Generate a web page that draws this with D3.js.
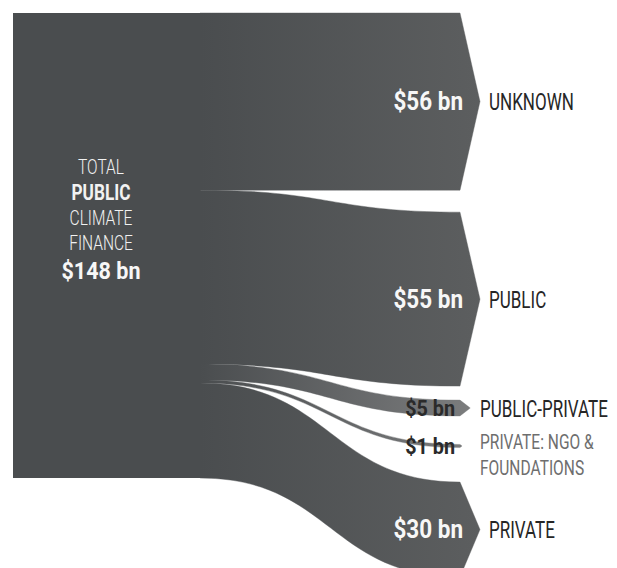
<!DOCTYPE html>
<html>
<head>
<meta charset="utf-8">
<script src="https://cdn.jsdelivr.net/npm/d3@7"></script>
<style>
  html, body { margin: 0; padding: 0; background: #fff; }
  svg { display: block; }
  text { font-family: Roboto, "Liberation Sans", sans-serif; }
</style>
</head>
<body>
<svg id="chart" width="617" height="568"></svg>
<script>
// Where the public money goes: destination of total public climate finance ($ bn)
const categoryLines = [
  ["UNKNOWN"],
  ["PUBLIC"],
  ["PUBLIC-PRIVATE"],
  ["PRIVATE: NGO &", "FOUNDATIONS"],
  ["PRIVATE"]
];
const flowValues = [56, 55, 5, 1, 30];
const totalValue = 148;
const sourceLines = ["TOTAL", "PUBLIC", "CLIMATE", "FINANCE"];

const svg = d3.select("#chart");

// layout
const nodeLeft = 13, nodeTop = 13, nodeBottom = 478;
const linkX0 = 200, linkX1 = 460;
const targetGaps = [0, 22, 14, 28.5, 34.5];

const total = d3.sum(flowValues);
const y = d3.scaleLinear().domain([0, total]).range([nodeTop, nodeBottom]);
const bandH = v => y(v) - y(0);

const cum = [0, ...d3.cumsum(flowValues)];
const sourceTops = flowValues.map((v, i) => y(cum[i]));
let run = nodeTop;
const targetTops = flowValues.map((v, i) => {
  run += targetGaps[i];
  const t = run;
  run += bandH(v);
  return t;
});

const flows = flowValues.map((v, i) => {
  const h = bandH(v);
  const arrow = Math.min(20, h * 0.65);
  return {
    value: v, lines: categoryLines[i], h,
    y0: sourceTops[i], y1: targetTops[i],
    arrow, tip: linkX1 + arrow, mid: targetTops[i] + h / 2,
    big: h > 50
  };
});

// gradients
const defs = svg.append("defs");
function fade(id, from, to) {
  const g = defs.append("linearGradient")
    .attr("id", id).attr("gradientUnits", "userSpaceOnUse")
    .attr("x1", linkX0).attr("x2", linkX1 + 20).attr("y1", 0).attr("y2", 0);
  g.append("stop").attr("offset", 0).attr("stop-color", from);
  g.append("stop").attr("offset", 1).attr("stop-color", to);
}
const baseColor = "#4a4d4f";
fade("fadeDark", baseColor, "#5c5e5f");
fade("fadeLight", baseColor, "#7d7e7f");

// source node
svg.append("rect")
  .attr("x", nodeLeft).attr("y", nodeTop)
  .attr("width", linkX0 - nodeLeft + 0.5)
  .attr("height", nodeBottom - nodeTop)
  .attr("fill", baseColor);

// ribbons with arrow heads
function ribbon(d) {
  const xm = (linkX0 + linkX1) / 2;
  const p = d3.path();
  p.moveTo(linkX0, d.y0);
  p.bezierCurveTo(xm, d.y0, xm, d.y1, linkX1, d.y1);
  p.lineTo(d.tip, d.y1 + d.h / 2);
  p.lineTo(linkX1, d.y1 + d.h);
  p.bezierCurveTo(xm, d.y1 + d.h, xm, d.y0 + d.h, linkX0, d.y0 + d.h);
  p.closePath();
  return p.toString();
}

const links = svg.append("g").selectAll("path")
  .data(flows).join("path")
  .attr("d", ribbon)
  .attr("fill", d => d.big ? "url(#fadeDark)" : "url(#fadeLight)")
  .attr("stroke", d => d.big ? "url(#fadeDark)" : "url(#fadeLight)")
  .attr("stroke-width", 0.4);

const labels = svg.append("g");

// one condensed line of text
function line(parent, str, x, yPos, o) {
  const t = parent.append("g")
    .attr("transform", `translate(${x},0) scale(${o.sx},1)`)
    .append("text")
    .attr("x", 0).attr("y", yPos)
    .attr("text-anchor", o.anchor || "start")
    .attr("font-size", o.size)
    .attr("font-weight", o.weight || 400)
    .attr("fill", o.fill)
    .text(str);
  return t;
}

// stack lines tightly (no overlapping boxes) around a vertical centre
function stack(parent, x, centreY, rows, gap) {
  const items = rows.map(r => ({ r, t: line(parent, r.text, x, 0, r) }));
  items.forEach(it => { const b = it.t.node().getBBox(); it.asc = -b.y; it.desc = b.y + b.height; });
  const totalH = d3.sum(items, it => it.asc + it.desc) + gap * (items.length - 1);
  let cursor = centreY - totalH / 2;
  items.forEach(it => {
    it.t.attr("y", cursor + it.asc);
    cursor += it.asc + it.desc + gap;
  });
}

// value labels
flows.forEach(d => {
  line(labels, `$${d.value} bn`, d.big ? linkX1 + 3 : linkX1 - 5, d.mid + (d.big ? 8.5 : 7.5), {
    anchor: "end", size: d.big ? 25 : 22, weight: 700, sx: 0.9,
    fill: d.big ? "#f7f7f7" : "#2a2a2a"
  });
});

// category labels
flows.forEach((d, i) => {
  const lx = Math.max(d.tip + 9, 480);
  const style = { size: 23, sx: 0.74, fill: i === 3 ? "#6e6e6e" : "#262626" };
  if (d.lines.length === 1) {
    line(labels, d.lines[0], lx, d.mid + 8.5, style);
  } else {
    stack(labels, lx, d.mid + 9, d.lines.map(s => ({ ...style, size: 21, text: s })), 0.5);
  }
});

// source label
const sourceRows = sourceLines.map((s, i) => ({
  text: s, anchor: "middle",
  size: i === 1 ? 21.5 : 21, weight: i === 1 ? 700 : 300,
  sx: i === 1 ? 0.8 : 0.74, fill: "#f2f2f2"
}));
sourceRows.push({ text: `$${totalValue} bn`, anchor: "middle", size: 24.5, weight: 700, sx: 0.88, fill: "#f7f7f7" });
stack(labels, 101, 220, sourceRows, 0.3);

// the thinnest ribbon sits over its own label
links.filter((d, i) => i === 3).raise();
</script>
</body>
</html>
